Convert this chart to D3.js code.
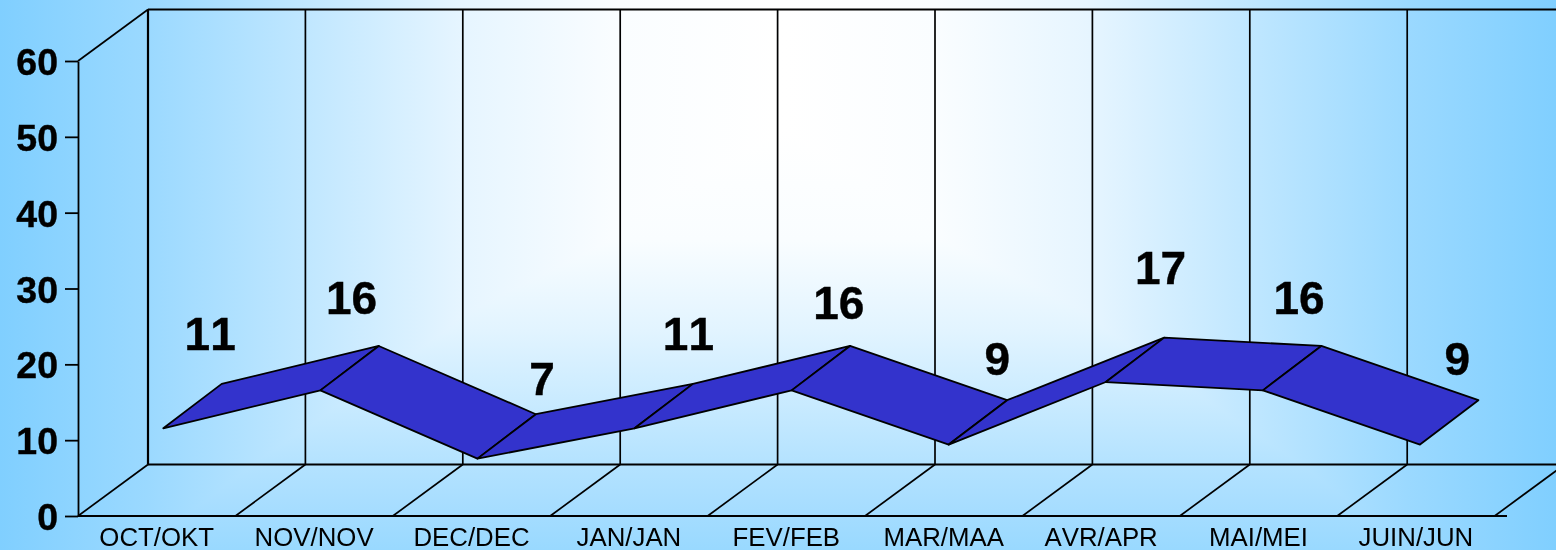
<!DOCTYPE html>
<meta charset="utf-8">
<style>
  html, body { margin: 0; padding: 0; }
  svg { display: block; }
  text { font-family: "Liberation Sans", Arial, sans-serif; fill: #000; font-kerning: none; }
</style>
<svg width="1556" height="550"></svg>
<script src="https://d3js.org/d3.v7.min.js"></script>
<script>
var months = ['OCT/OKT', 'NOV/NOV', 'DEC/DEC', 'JAN/JAN', 'FEV/FEB', 'MAR/MAA', 'AVR/APR', 'MAI/MEI', 'JUIN/JUN']
var values = [11, 16, 7, 11, 16, 8.85, 17.1, 16, 8.85]
var yTicks = [0, 10, 20, 30, 40, 50, 60]

// the value labels were moved by hand in the original, so each has its own nudge
var labelNudgeX = [-11, -27, 6, -5, -12, -11, -5, -24, -23]
var labelNudgeY = [-34, -32, -19, -34, -27, -25, -54, -32, -25]

var width = 1556
var height = 550

// 3d box depth
var depthX = 70
var depthY = -51.5
// ribbon front and rear edge, measured from the front of the box
var frontY = -4.3
var rearX = 58.4, rearY = -48.7

var edgeBlue = '#80cfff'
var shade = d3.interpolateRgb('#ffffff', edgeBlue)

var svg = d3.select('svg')
var defs = svg.append('defs')

// background: white in the middle, blue to the sides and the bottom
function addGradient(id, vertical, stops) {
  var g = defs.append('linearGradient').attr('id', id)
    .attr('x1', 0).attr('y1', 0)
    .attr('x2', vertical ? 0 : 1).attr('y2', vertical ? 1 : 0)
  stops.forEach(function (s) {
    g.append('stop').attr('offset', s[0]).attr('stop-color', shade(s[1]))
  })
}

addGradient('sideways', false, [
  [0, 1], [148 / 1556, 0.79], [305 / 1556, 0.5], [463 / 1556, 0.2], [619 / 1556, 0.04], [785 / 1556, 0],
  [935 / 1556, 0.04], [1091 / 1556, 0.2], [1248 / 1556, 0.5], [1407 / 1556, 0.79], [1, 1]
])
addGradient('downward', true, [
  [0, 0], [130 / 550, 0], [240 / 550, 0.05], [330 / 550, 0.23], [460 / 550, 0.58], [500 / 550, 0.68], [1, 0.8]
])

svg.append('rect').attr('width', width).attr('height', height).attr('fill', 'url(#sideways)')
svg.append('rect').attr('width', width).attr('height', height).attr('fill', 'url(#downward)')
  .style('mix-blend-mode', 'darken')

// scales
var x = d3.scaleBand().domain(months).range([78, 1494.6])
var ribbonX = d3.scalePoint().domain(months).range([163.3, 1420])
var y = d3.scaleLinear().domain([0, 60]).range([516, 61])

var step = x.step()
var gridX = d3.range(months.length + 1).map(function (i) { return x.range()[0] + i * step })

var lineWidth = 1.7
var grid = svg.append('g').attr('stroke', '#000').attr('stroke-width', lineWidth).attr('fill', 'none')

function addLine(x1, y1, x2, y2, w) {
  grid.append('line')
    .attr('x1', x1).attr('y1', y1).attr('x2', x2).attr('y2', y2)
    .attr('stroke-width', w || lineWidth)
}

// back wall verticals and floor slants
gridX.forEach(function (gx, i) {
  addLine(gx + depthX, y(60) + depthY, gx + depthX, y(0) + depthY, i === 0 ? 2.2 : lineWidth)
  addLine(gx, y(0), gx + depthX, y(0) + depthY)
})
addLine(x.range()[0], y(60), x.range()[0] + depthX, y(60) + depthY)
addLine(x.range()[0] + depthX, y(60) + depthY, width, y(60) + depthY, 2)
addLine(x.range()[0] + depthX, y(0) + depthY, width, y(0) + depthY, 2)
addLine(x.range()[0], y(0), 1507, y(0), 2)

// ribbon
var ribbon = svg.append('g')
var points = months.map(function (m, i) {
  return { m: m, px: ribbonX(m), cy: y(values[i]) }
})

ribbon.selectAll('path')
  .data(d3.pairs(points))
  .enter().append('path')
  .attr('d', function (d) {
    var a = d[0], b = d[1]
    return d3.line()([
      [a.px, a.cy + frontY],
      [a.px + rearX, a.cy + rearY],
      [b.px + rearX, b.cy + rearY],
      [b.px, b.cy + frontY]
    ]) + 'Z'
  })
  .attr('fill', '#3333cc')
  .attr('stroke', '#000')
  .attr('stroke-width', 1.8)
  .attr('stroke-linejoin', 'round')

// value labels
svg.append('g').selectAll('text')
  .data(points)
  .enter().append('text')
  .attr('x', function (d, i) { return x(d.m) + x.bandwidth() / 2 + 64.5 + labelNudgeX[i] })
  .attr('y', function (d, i) { return d.cy + rearY + labelNudgeY[i] })
  .attr('text-anchor', 'middle')
  .attr('font-size', 46)
  .attr('font-weight', 'bold')
  .attr('stroke', '#000').attr('stroke-width', 0.4)
  .text(function (d, i) { return d3.format('.0f')(values[i]) })

// axes
var yAxis = svg.append('g')
  .attr('transform', 'translate(78,0)')
  .call(d3.axisLeft(y).tickValues(yTicks).tickSize(13).tickSizeOuter(0).tickPadding(7))
yAxis.selectAll('line').attr('stroke', '#000').attr('stroke-width', 1.8)
yAxis.select('.domain').attr('stroke', '#000').attr('stroke-width', 1.8)
yAxis.selectAll('text')
  .attr('font-family', '"Liberation Sans", Arial, sans-serif')
  .attr('font-size', 37.5).attr('font-weight', 'bold')
  .attr('stroke', '#000').attr('stroke-width', 0.4)
  .attr('dy', '0.36em')

var xAxis = svg.append('g')
  .attr('transform', 'translate(0,' + y(0) + ')')
  .call(d3.axisBottom(x).tickSize(0).tickPadding(12))
xAxis.select('.domain').remove()
xAxis.selectAll('text')
  .attr('font-family', '"Liberation Sans", Arial, sans-serif')
  .attr('font-size', 25.8)
  .attr('dy', 0).attr('y', 30)
</script>
